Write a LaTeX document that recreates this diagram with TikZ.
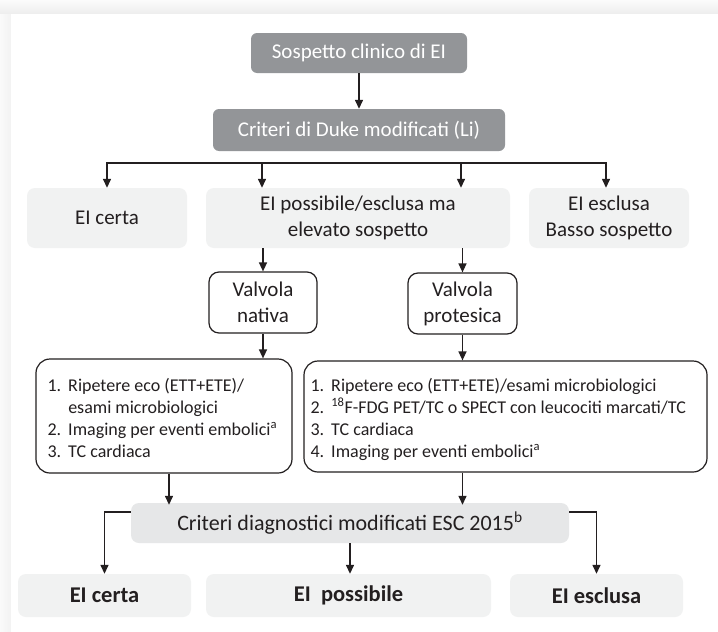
\documentclass[tikz,border=0pt]{standalone}
\usepackage{fontspec}
\setmainfont{Carlito}
\usetikzlibrary{arrows.meta,calc}
\definecolor{boxdark}{HTML}{939598}
\definecolor{boxlight}{HTML}{F1F2F2}
\definecolor{boxmid}{HTML}{E6E7E8}
\definecolor{ink}{HTML}{231F20}
\tikzset{
  darkbox/.style={fill=boxdark, text=white, rounded corners=6pt, inner sep=0pt,
    font=\fontsize{21}{26}\selectfont, align=center},
  lightbox/.style={fill=boxlight, text=ink, rounded corners=8pt, inner sep=0pt,
    font=\fontsize{21}{26}\selectfont, align=center},
  midbox/.style={fill=boxmid, text=ink, rounded corners=8pt, inner sep=0pt,
    font=\fontsize{22}{27}\selectfont, align=center},
  boldbox/.style={fill=boxlight, text=ink, rounded corners=8pt, inner sep=0pt,
    font=\fontsize{22.5}{27}\selectfont\bfseries, align=center},
  outbox/.style={draw=ink, line width=1.2pt, fill=white, text=ink, rounded corners=10pt,
    inner sep=0pt, font=\fontsize{21}{26}\selectfont, align=center},
  listbox/.style={draw=ink, line width=1.2pt, fill=white, rounded corners=14pt, inner sep=0pt},
  listtext/.style={text=ink, inner sep=0pt, anchor=north west, font=\fontsize{18}{22}\selectfont},
  arr/.style={draw=ink, line width=1.4pt, -{Triangle[width=8pt,length=9pt]}},
  bar/.style={draw=ink, line width=2pt},
}
\begin{document}
\begin{tikzpicture}[x=1pt,y=-1pt]
\useasboundingbox (0,0) rectangle (718,632);
% background
\fill[gray!6] (0,0) rectangle (718,632);
\shade[top color=gray!3, bottom color=gray!14] (0,0) rectangle (718,14);
\shade[left color=gray!4, right color=gray!10] (0,14) rectangle (11,632);
\fill[white] (11,14) rectangle (718,632);

% top
\node[darkbox, minimum width=216pt, minimum height=40pt] (sosp) at (359,53) {Sospetto clinico di EI};
\node[darkbox, minimum width=292pt, minimum height=42pt] (duke) at (359,130) {Criteri di Duke modificati (Li)};

% first level
\node[lightbox, minimum width=160pt, minimum height=60pt] (certa) at (107,218) {EI certa};
\node[lightbox, minimum width=304pt, minimum height=60pt] (poss) at (358,218) {EI possibile/esclusa ma\\elevato sospetto};
\node[lightbox, minimum width=160pt, minimum height=60pt] (escl) at (609,218) {EI esclusa\\Basso sospetto};

% valves
\node[outbox, minimum width=108pt, minimum height=61pt] (nat) at (263,302.5) {Valvola\\nativa};
\node[outbox, minimum width=109pt, minimum height=61pt] (pro) at (462.5,303.5) {Valvola\\protesica};

% lists
\node[listbox, minimum width=256pt, minimum height=114pt] (listL) at (164,416) {};
\node[listtext] (listLtext) at ($(listL.north west)+(12,17)$)
  {\begin{tabular}{@{}l@{\hspace{7pt}}l@{}}
   1. & Ripetere eco (ETT+ETE)/\\
      & esami microbiologici\\
   2. & Imaging per eventi embolici\textsuperscript{a}\\
   3. & TC cardiaca
   \end{tabular}};
\node[listbox, minimum width=403pt, minimum height=111pt] (listR) at (505.5,416.5) {};
\node[listtext] (listRtext) at ($(listR.north west)+(7,15)$)
  {\begin{tabular}{@{}l@{\hspace{7pt}}l@{}}
   1. & Ripetere eco (ETT+ETE)/esami microbiologici\\
   2. & \textsuperscript{18}F-FDG PET/TC o SPECT con leucociti marcati/TC\\
   3. & TC cardiaca\\
   4. & Imaging per eventi embolici\textsuperscript{a}
   \end{tabular}};

% ESC criteria
\node[midbox, minimum width=438pt, minimum height=40pt] (crit) at (350,523) {Criteri diagnostici modificati ESC 2015\textsuperscript{b}};

% final
\node[boldbox, minimum width=173pt, minimum height=43pt] (fcerta) at (104.5,595.5) {EI certa};
\node[boldbox, minimum width=285pt, minimum height=43pt] (fposs) at (348.5,595.5) {EI\ \ possibile};
\node[boldbox, minimum width=173pt, minimum height=43pt] (fescl) at (596.5,595.5) {EI esclusa};

% connectors
\draw[arr] (sosp.south) -- (duke.north);
\coordinate (h1) at (107,163);
\coordinate (h2) at (262,163);
\coordinate (h3) at (461,163);
\coordinate (h4) at (606,163);
\draw[bar] ([xshift=-1pt]h1) -- ([xshift=1pt]h4);
\draw[arr] (h1) -- (h1 |- certa.north);
\draw[arr] (h2) -- (h2 |- poss.north);
\draw[arr] (h3) -- (h3 |- poss.north);
\draw[arr] (h4) -- (h4 |- escl.north);

\draw[arr] (nat.north |- poss.south) -- (nat.north);
\draw[arr] (pro.north |- poss.south) -- (pro.north);

\draw[arr] (nat.south) -- (nat.south |- listL.north);
\draw[arr] (pro.south) -- (pro.south |- listR.north);

\coordinate (lo) at ($(listL.south)+(5,0)$);
\draw[arr] (lo) -- ([yshift=-2pt]lo |- crit.north);
\draw[arr] (pro.south |- listR.south) -- ([yshift=-2pt]pro.south |- crit.north);

\coordinate (cl) at ($(crit.west)+(0,-11)$);
\coordinate (cr) at ($(crit.east)+(0,-11)$);
\draw[arr] (cl) -| (fcerta.north);
\draw[arr] (cr) -| (fescl.north);
\draw[arr] (crit.south) -- (crit.south |- fposs.north);
\end{tikzpicture}
\end{document}
